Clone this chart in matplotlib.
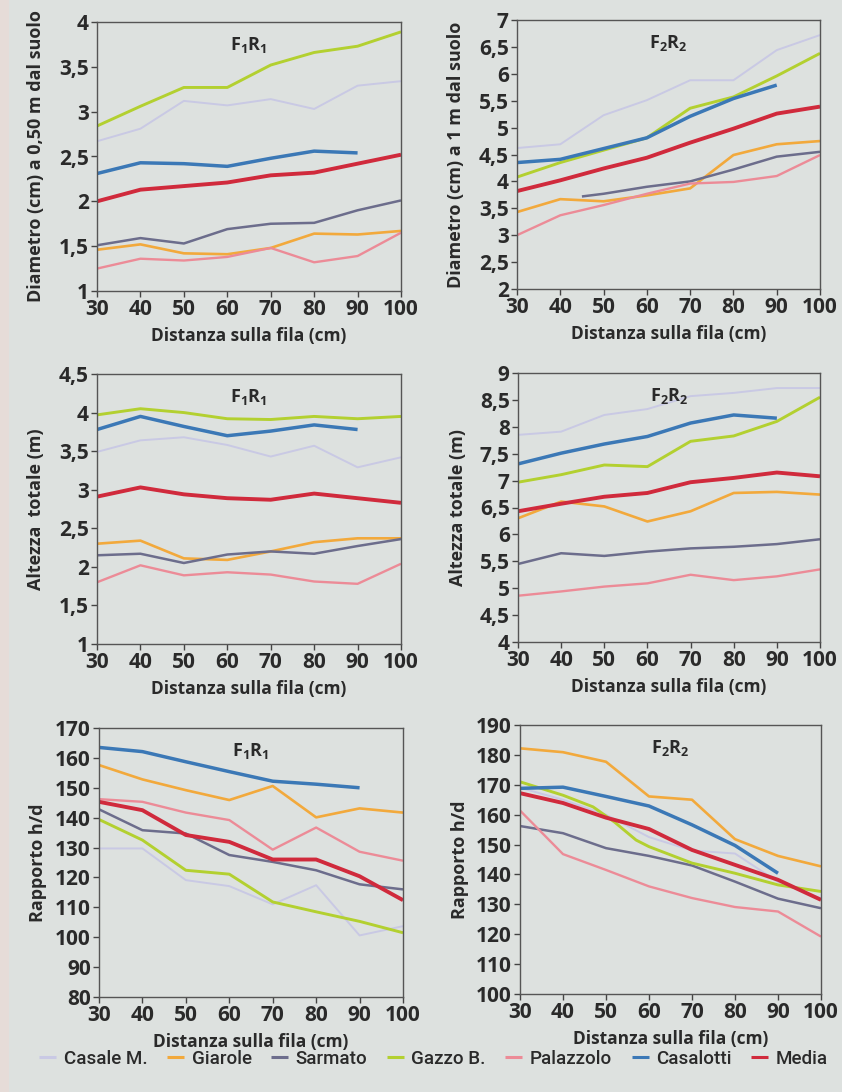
import numpy as np
import matplotlib.pyplot as plt
from matplotlib.patches import Rectangle

plt.rcParams['font.family'] = ['Open Sans', 'DejaVu Sans']
plt.rcParams['mathtext.default'] = 'regular'

distanza = [30, 40, 50, 60, 70, 80, 90, 100]
dist_casalotti = [30, 40, 50, 60, 70, 80, 90]

series = ["Casale M.", "Giarole", "Sarmato", "Gazzo B.", "Palazzolo", "Casalotti", "Media"]
colors = {"Casale M.": "#c9c9e4", "Giarole": "#f2a93c", "Sarmato": "#6c6d8c",
          "Gazzo B.": "#b3d030", "Palazzolo": "#ec8b97", "Casalotti": "#3b78b6",
          "Media": "#d02a3c"}
widths = {"Casale M.": 1.4, "Giarole": 1.9, "Sarmato": 1.8, "Gazzo B.": 2.1,
          "Palazzolo": 1.7, "Casalotti": 2.5, "Media": 2.8}

# diametro a 0,50 m - F1R1
d50_f1r1 = {
    "Casale M.": [2.67, 2.81, 3.12, 3.07, 3.14, 3.03, 3.29, 3.34],
    "Giarole": [1.46, 1.52, 1.42, 1.41, 1.48, 1.64, 1.63, 1.67],
    "Sarmato": [1.51, 1.59, 1.53, 1.69, 1.75, 1.76, 1.90, 2.01],
    "Gazzo B.": [2.84, 3.06, 3.27, 3.27, 3.52, 3.66, 3.73, 3.89],
    "Palazzolo": [1.25, 1.36, 1.34, 1.38, 1.48, 1.32, 1.39, 1.65],
    "Casalotti": [2.31, 2.43, 2.42, 2.39, 2.48, 2.56, 2.54],
    "Media": [2.00, 2.13, 2.17, 2.21, 2.29, 2.32, 2.42, 2.52],
}

# diametro a 1 m - F2R2
d100_f2r2 = {
    "Casale M.": [4.62, 4.69, 5.23, 5.51, 5.88, 5.88, 6.44, 6.72],
    "Giarole": [3.43, 3.67, 3.63, 3.74, 3.87, 4.49, 4.69, 4.75],
    "Sarmato": [3.72, 3.77, 3.90, 4.00, 4.22, 4.46, 4.55],
    "Gazzo B.": [4.08, 4.35, 4.58, 4.81, 5.36, 5.57, 5.96, 6.38],
    "Palazzolo": [3.00, 3.37, 3.56, 3.77, 3.96, 3.99, 4.10, 4.49],
    "Casalotti": [4.35, 4.41, 4.61, 4.81, 5.21, 5.54, 5.79],
    "Media": [3.82, 4.02, 4.24, 4.44, 4.72, 4.98, 5.26, 5.39],
}
dist_sarmato_d100 = [45, 50, 60, 70, 80, 90, 100]

# altezza totale - F1R1
h_f1r1 = {
    "Casale M.": [3.49, 3.64, 3.68, 3.58, 3.43, 3.57, 3.29, 3.42],
    "Giarole": [2.30, 2.34, 2.11, 2.09, 2.20, 2.32, 2.37, 2.37],
    "Sarmato": [2.15, 2.17, 2.05, 2.16, 2.20, 2.17, 2.27, 2.36],
    "Gazzo B.": [3.97, 4.05, 4.00, 3.92, 3.91, 3.95, 3.92, 3.95],
    "Palazzolo": [1.80, 2.02, 1.89, 1.93, 1.90, 1.81, 1.78, 2.04],
    "Casalotti": [3.78, 3.95, 3.82, 3.70, 3.76, 3.84, 3.78],
    "Media": [2.91, 3.03, 2.94, 2.89, 2.87, 2.95, 2.89, 2.83],
}

# altezza totale - F2R2
h_f2r2 = {
    "Casale M.": [7.85, 7.91, 8.22, 8.33, 8.57, 8.63, 8.72, 8.72],
    "Giarole": [6.30, 6.61, 6.52, 6.24, 6.43, 6.77, 6.79, 6.74],
    "Sarmato": [5.45, 5.65, 5.60, 5.68, 5.74, 5.77, 5.82, 5.91],
    "Gazzo B.": [6.97, 7.11, 7.29, 7.26, 7.73, 7.83, 8.10, 8.55],
    "Palazzolo": [4.86, 4.94, 5.03, 5.09, 5.25, 5.15, 5.22, 5.35],
    "Casalotti": [7.31, 7.51, 7.68, 7.82, 8.07, 8.22, 8.16],
    "Media": [6.43, 6.57, 6.70, 6.77, 6.97, 7.05, 7.15, 7.08],
}

# rapporto h/d - F1R1
hd_f1r1 = {
    "Casale M.": [129.7, 129.7, 119.1, 117.1, 111.0, 117.4, 100.6, 103.7],
    "Giarole": [157.6, 152.8, 149.2, 145.9, 150.6, 140.1, 143.1, 141.7],
    "Sarmato": [142.8, 135.8, 134.7, 127.5, 125.2, 122.4, 117.7, 116.0],
    "Gazzo B.": [139.4, 132.5, 122.4, 121.1, 111.8, 108.5, 105.3, 101.5],
    "Palazzolo": [146.2, 145.3, 141.7, 139.2, 129.3, 136.7, 128.6, 125.6],
    "Casalotti": [163.5, 162.1, 158.7, 155.4, 152.2, 151.2, 150.0],
    "Media": [145.3, 142.5, 134.2, 131.9, 126.0, 126.0, 120.4, 112.4],
}

# rapporto h/d - F2R2
hd_f2r2 = {
    "Casale M.": [169.0, 165.0, 160.0, 152.5, 148.0, 147.0, 137.5, 132.0],
    "Giarole": [182.2, 180.9, 177.7, 166.1, 165.0, 151.8, 146.2, 142.7],
    "Sarmato": [156.2, 153.8, 148.8, 146.2, 143.0, 137.6, 131.9, 128.7],
    "Gazzo B.": [171.0, 166.5, 162.6, 157.5, 151.5, 149.3, 143.8, 140.4, 136.5, 134.3],
    "Palazzolo": [161.4, 146.8, 141.5, 136.0, 132.1, 129.1, 127.6, 119.2],
    "Casalotti": [168.8, 169.2, 166.1, 162.9, 156.6, 149.7, 140.4],
    "Media": [167.2, 163.9, 159.0, 155.2, 148.2, 143.2, 138.2, 131.5],
}
dist_gazzo_hd = [30, 40, 47, 52, 57, 60, 70, 80, 90, 100]

panels = [
    (d50_f1r1, "Diametro (cm) a 0,50 m dal suolo", (1, 4), np.arange(1, 4.01, 0.5), "F$_1$R$_1$", {}),
    (d100_f2r2, "Diametro (cm) a 1 m dal suolo", (2, 7), np.arange(2, 7.01, 0.5), "F$_2$R$_2$",
     {"Sarmato": dist_sarmato_d100}),
    (h_f1r1, "Altezza  totale (m)", (1, 4.5), np.arange(1, 4.51, 0.5), "F$_1$R$_1$", {}),
    (h_f2r2, "Altezza totale (m)", (4, 9), np.arange(4, 9.01, 0.5), "F$_2$R$_2$", {}),
    (hd_f1r1, "Rapporto h/d", (80, 170), np.arange(80, 171, 10), "F$_1$R$_1$", {}),
    (hd_f2r2, "Rapporto h/d", (100, 190), np.arange(100, 191, 10), "F$_2$R$_2$",
     {"Gazzo B.": dist_gazzo_hd}),
]

# axes boxes in pixels: left, top, right, bottom
boxes = [(97, 22, 401, 291), (517, 20, 820, 289),
         (97, 374, 401, 644), (518, 373, 820, 642),
         (99, 728, 403, 997), (520, 725, 821, 994)]

W, H = 842, 1092
bg = "#dde1df"
ink = "#2a2a2a"
fig = plt.figure(figsize=(W / 100, H / 100), dpi=100, facecolor=bg)
fig.patches.append(Rectangle((0, 0), 9 / W, 1, transform=fig.transFigure,
                             facecolor="#e6dcd8", edgecolor="none", zorder=0))

handles = {}
for (data, ylab, ylim, yticks, title, xs_special), (l, t, r, b) in zip(panels, boxes):
    ax = fig.add_axes([l / W, 1 - b / H, (r - l) / W, (b - t) / H])
    ax.set_facecolor(bg)
    for name in series:
        vals = data[name]
        if name in xs_special:
            xs = xs_special[name]
        elif len(vals) == 7:
            xs = dist_casalotti
        else:
            xs = distanza
        line, = ax.plot(xs, vals, color=colors[name], lw=widths[name],
                        solid_capstyle="butt", solid_joinstyle="round")
        handles[name] = line
    ax.set_xlim(30, 100)
    ax.set_ylim(*ylim)
    ax.set_xticks(distanza, [str(v) for v in distanza],
                  fontsize=15, fontweight="bold", color=ink)
    ax.set_yticks(yticks, [f"{v:g}".replace(".", ",") for v in yticks],
                  fontsize=15, fontweight="bold", color=ink)
    ax.tick_params(length=4, width=1, color="#444444", pad=2)
    for sp in ax.spines.values():
        sp.set_color("#555555")
        sp.set_linewidth(1)
    ax.set_xlabel("Distanza sulla fila (cm)", fontsize=12.5, fontweight="bold", color=ink)
    ax.set_ylabel(ylab, fontsize=13, fontweight="bold", color=ink)
    ax.xaxis.set_label_coords(0.5, -0.135)
    ax.yaxis.set_label_coords(-0.17, 0.5)
    ax.text(0.5, 0.915, title, transform=ax.transAxes, ha="center", va="center",
            fontsize=13, fontweight="bold", color=ink)

leg = fig.legend([handles[n] for n in series], series, loc="center",
                 bbox_to_anchor=(0.515, 1 - 1059 / H), ncol=7, frameon=False,
                 handlelength=0.9, handletextpad=0.4, columnspacing=1.05,
                 prop={"family": ["Roboto", "DejaVu Sans"], "size": 13.5,
                       "weight": "medium"})
for txt in leg.get_texts():
    txt.set_color(ink)
for h in leg.legend_handles:
    h.set_linewidth(2.2)

fig.savefig("out.png", dpi=100, facecolor=bg)
